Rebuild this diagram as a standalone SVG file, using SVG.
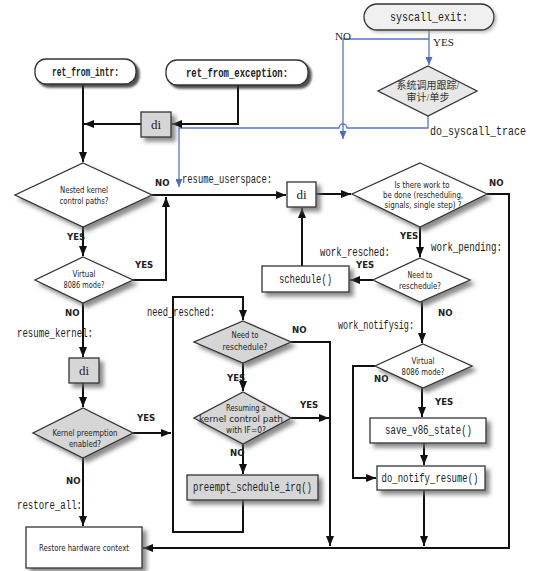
<svg xmlns="http://www.w3.org/2000/svg" width="554" height="571" viewBox="0 0 554 571">
<style>
.bx{stroke:#333;stroke-width:1.3;fill:#fff}
.gr{fill:#d6d6d6}
.ln{fill:none;stroke:#111;stroke-width:2}
.bl{fill:none;stroke:#5577c4;stroke-width:1.3}
.mono{font-family:"Liberation Mono","DejaVu Sans Mono",monospace;font-size:12px;fill:#222}
.cd{font-family:"Liberation Sans Narrow","DejaVu Sans Condensed","Liberation Sans",sans-serif;font-size:9px;fill:#222;text-anchor:middle}
.lb{font-family:"Liberation Sans Narrow","DejaVu Sans Condensed","Liberation Sans",sans-serif;font-size:9.5px;font-weight:bold;fill:#222}
.sf{font-family:"Liberation Serif",serif;font-size:11px;fill:#222}
.di{font-family:"Liberation Serif",serif;font-size:13px;fill:#222;text-anchor:middle}
.cjk{font-family:"Liberation Serif","Noto Sans CJK SC",sans-serif;font-size:10px;fill:#333;text-anchor:middle}
</style>
<defs>
<marker id="ah" markerUnits="userSpaceOnUse" markerWidth="10" markerHeight="8" refX="10" refY="4" orient="auto"><path d="M0,0 L10,4 L0,8 z" fill="#111"/></marker>
<marker id="bh" markerUnits="userSpaceOnUse" markerWidth="8" markerHeight="7" refX="8" refY="3.5" orient="auto"><path d="M0,0 L8,3.5 L0,7 z" fill="#4a6fc0"/></marker>
<filter id="sh" x="-20%" y="-20%" width="150%" height="160%"><feDropShadow dx="4" dy="4" stdDeviation="2" flood-color="#666" flood-opacity="0.75"/></filter>
<filter id="dk" x="-10%" y="-20%" width="130%" height="160%"><feDropShadow dx="3" dy="3" stdDeviation="0.8" flood-color="#333" flood-opacity="0.85"/></filter>
<filter id="lt" x="-10%" y="-20%" width="130%" height="160%"><feDropShadow dx="2" dy="2" stdDeviation="1.5" flood-color="#999" flood-opacity="0.6"/></filter>
</defs>

<g id="connectors">
<path class="bl" d="M429,30 V65" marker-end="url(#bh)"/>
<path class="bl" d="M429,39 H343 V139" marker-end="url(#bh)"/>
<path class="bl" d="M428,116 V128 H347 A4,4 0 0 0 339,128 H179 V187" marker-end="url(#bh)"/>
<path class="ln" d="M83,84 V162" marker-end="url(#ah)"/>
<path class="ln" d="M141,124 H84" marker-end="url(#ah)"/>
<path class="ln" d="M238,85 V124 H172" marker-end="url(#ah)"/>
<path class="ln" d="M83,227 V256" marker-end="url(#ah)"/>
<path class="ln" d="M152,195 H286" marker-end="url(#ah)"/>
<path class="ln" d="M133,280 H166 V197" marker-end="url(#ah)"/>
<path class="ln" d="M83,303 V357" marker-end="url(#ah)"/>
<path class="ln" d="M83,383 V407" marker-end="url(#ah)"/>
<path class="ln" d="M133,433 H171" marker-end="url(#ah)"/>
<path class="ln" d="M83,458 V526" marker-end="url(#ah)"/>
<path class="ln" d="M243,500 V532 H173 V297 H243 V320" marker-end="url(#ah)"/>
<path class="ln" d="M243,363 V391" marker-end="url(#ah)"/>
<path class="ln" d="M291,342 H330 V546" marker-end="url(#ah)"/>
<path class="ln" d="M291,418 H329" marker-end="url(#ah)"/>
<path class="ln" d="M243,444 V474" marker-end="url(#ah)"/>
<path class="ln" d="M316,194 H351" marker-end="url(#ah)"/>
<path class="ln" d="M487,194 H509 V548 H143" marker-end="url(#ah)"/>
<path class="ln" d="M420,227 V257" marker-end="url(#ah)"/>
<path class="ln" d="M373,280 H350" marker-end="url(#ah)"/>
<path class="ln" d="M302,266 V208" marker-end="url(#ah)"/>
<path class="ln" d="M422,302 V343" marker-end="url(#ah)"/>
<path class="ln" d="M375,366 H353 V478 H376" marker-end="url(#ah)"/>
<path class="ln" d="M422,388 V417" marker-end="url(#ah)"/>
<path class="ln" d="M424,443 V465" marker-end="url(#ah)"/>
<path class="ln" d="M424,490 V546" marker-end="url(#ah)"/>
</g>

<g id="labels">
<text class="sf" x="335" y="40">NO</text>
<text class="sf" x="433" y="46">YES</text>
<text class="mono" x="430" y="135" font-size="12.5" textLength="96" lengthAdjust="spacingAndGlyphs">do_syscall_trace</text>
<text class="lb" x="155" y="186">NO</text>
<text class="lb" x="67" y="240">YES</text>
<text class="lb" x="135" y="268">YES</text>
<text class="lb" x="65" y="316">NO</text>
<text class="lb" x="137" y="421">YES</text>
<text class="lb" x="66" y="484">NO</text>
<text class="lb" x="227" y="381">YES</text>
<text class="lb" x="292" y="333">NO</text>
<text class="lb" x="230" y="456">NO</text>
<text class="lb" x="300" y="408">YES</text>
<text class="lb" x="489" y="186">NO</text>
<text class="lb" x="400" y="239">YES</text>
<text class="lb" x="356" y="268">YES</text>
<text class="lb" x="438" y="316">NO</text>
<text class="lb" x="374" y="382">NO</text>
<text class="lb" x="435" y="405">YES</text>
<text class="mono" x="182" y="183" textLength="90" lengthAdjust="spacingAndGlyphs">resume_userspace:</text>
<text class="mono" x="320" y="256" textLength="70" lengthAdjust="spacingAndGlyphs">work_resched:</text>
<text class="mono" x="431" y="251" textLength="71" lengthAdjust="spacingAndGlyphs">work_pending:</text>
<text class="mono" x="338" y="329" textLength="76" lengthAdjust="spacingAndGlyphs">work_notifysig:</text>
<text class="mono" x="147" y="316" textLength="68" lengthAdjust="spacingAndGlyphs">need_resched:</text>
<text class="mono" x="17" y="337" textLength="76" lengthAdjust="spacingAndGlyphs">resume_kernel:</text>
<text class="mono" x="17" y="509" textLength="65" lengthAdjust="spacingAndGlyphs">restore_all:</text>
</g>

<g id="syscall_exit">
<rect class="bx" x="364" y="4" width="130" height="26" rx="13" style="fill:#f0f0f0" filter="url(#lt)"/>
<text class="mono" x="429" y="21" text-anchor="middle" textLength="78" lengthAdjust="spacingAndGlyphs">syscall_exit:</text>
</g>
<g id="trace_check">
<polygon class="bx" points="428,66 477,91 428,116 378,91" style="fill:#e8e8e8"/>
<text class="cjk" x="428" y="89">系统调用跟踪/</text>
<text class="cjk" x="428" y="101">审计/单步</text>
</g>
<g id="ret_from_intr">
<rect class="bx" x="35" y="59" width="101" height="25" rx="11" filter="url(#dk)"/>
<text class="mono" x="85.5" y="76" text-anchor="middle" font-weight="bold" textLength="67" lengthAdjust="spacingAndGlyphs">ret_from_intr:</text>
</g>
<g id="ret_from_exception">
<rect class="bx" x="166" y="60" width="142" height="25" rx="11" filter="url(#dk)"/>
<text class="mono" x="237" y="77" text-anchor="middle" font-weight="bold" textLength="102" lengthAdjust="spacingAndGlyphs">ret_from_exception:</text>
</g>
<g id="di1">
<rect class="bx gr" x="141" y="112" width="30" height="25" filter="url(#sh)"/>
<text class="di" x="156" y="129">di</text>
</g>
<g id="nested">
<polygon class="bx" points="83,163 152,195 83,227 15,195" filter="url(#sh)"/>
<text class="cd" x="84" y="193" textLength="48" lengthAdjust="spacingAndGlyphs">Nested kernel</text>
<text class="cd" x="84" y="204" textLength="49" lengthAdjust="spacingAndGlyphs">control paths?</text>
</g>
<g id="virtual1">
<polygon class="bx" points="83,257 133,280 83,303 35,280" filter="url(#sh)"/>
<text class="cd" x="84" y="277" textLength="23" lengthAdjust="spacingAndGlyphs">Virtual</text>
<text class="cd" x="84" y="288" textLength="41" lengthAdjust="spacingAndGlyphs">8086 mode?</text>
</g>
<g id="di2">
<rect class="bx gr" x="69" y="358" width="30" height="25" filter="url(#sh)"/>
<text class="di" x="84" y="375">di</text>
</g>
<g id="kernel_preemption">
<polygon class="bx gr" points="83,408 133,433 83,458 33,433" filter="url(#sh)"/>
<text class="cd" x="85" y="435.5" textLength="65" lengthAdjust="spacingAndGlyphs">Kernel preemption</text>
<text class="cd" x="85" y="446.5" textLength="32" lengthAdjust="spacingAndGlyphs">enabled?</text>
</g>
<g id="restore">
<rect class="bx" x="26" y="527" width="116" height="41" filter="url(#sh)"/>
<text class="cd" x="84" y="551" font-size="10" textLength="90" lengthAdjust="spacingAndGlyphs">Restore hardware context</text>
</g>
<g id="di3">
<rect class="bx" x="287" y="182" width="29" height="25" filter="url(#sh)"/>
<text class="di" x="301.5" y="199">di</text>
</g>
<g id="work_check">
<polygon class="bx" points="420,163 487,194 420,227 352,194" filter="url(#sh)"/>
<text class="cd" x="422" y="188" textLength="55" lengthAdjust="spacingAndGlyphs">Is there work to</text>
<text class="cd" x="423" y="198" textLength="80" lengthAdjust="spacingAndGlyphs">be done (rescheduling,</text>
<text class="cd" x="423" y="208" textLength="77" lengthAdjust="spacingAndGlyphs">signals, single step) ?</text>
</g>
<g id="need_resched_work">
<polygon class="bx" points="420,258 470,280 420,302 373,280" filter="url(#sh)"/>
<text class="cd" x="420" y="278" textLength="25" lengthAdjust="spacingAndGlyphs">Need to</text>
<text class="cd" x="420" y="289" textLength="42" lengthAdjust="spacingAndGlyphs">reschedule?</text>
</g>
<g id="schedule">
<rect class="bx" x="262" y="266" width="87" height="26" filter="url(#sh)"/>
<text class="mono" x="305.5" y="283" text-anchor="middle" textLength="53" lengthAdjust="spacingAndGlyphs">schedule()</text>
</g>
<g id="virtual2">
<polygon class="bx" points="423,344 472,366 423,388 375,366" filter="url(#sh)"/>
<text class="cd" x="423" y="363.5" textLength="23" lengthAdjust="spacingAndGlyphs">Virtual</text>
<text class="cd" x="423" y="374.5" textLength="43" lengthAdjust="spacingAndGlyphs">8086 mode?</text>
</g>
<g id="save_v86_state">
<rect class="bx" x="370" y="418" width="116" height="25" filter="url(#sh)"/>
<text class="mono" x="428.5" y="434" text-anchor="middle" textLength="87" lengthAdjust="spacingAndGlyphs">save_v86_state()</text>
</g>
<g id="do_notify_resume">
<rect class="bx" x="377" y="466" width="108" height="24" filter="url(#sh)"/>
<text class="mono" x="430" y="482" text-anchor="middle" textLength="97" lengthAdjust="spacingAndGlyphs">do_notify_resume()</text>
</g>
<g id="need_resched_kernel">
<polygon class="bx gr" points="243,321 291,342 243,363 194,342" filter="url(#sh)"/>
<text class="cd" x="245" y="338" textLength="27" lengthAdjust="spacingAndGlyphs">Need to</text>
<text class="cd" x="245" y="349.5" textLength="45" lengthAdjust="spacingAndGlyphs">reschedule?</text>
</g>
<g id="resuming">
<polygon class="bx gr" points="243,392 291,418 243,444 194,418" filter="url(#sh)"/>
<text class="cd" x="246" y="410.5" textLength="40" lengthAdjust="spacingAndGlyphs">Resuming a</text>
<text class="cd" x="241" y="421.5" textLength="84" lengthAdjust="spacingAndGlyphs">kernel control path</text>
<text class="cd" x="246" y="432.5" textLength="40" lengthAdjust="spacingAndGlyphs">with IF=0?</text>
</g>
<g id="preempt_schedule_irq">
<rect class="bx gr" x="187" y="475" width="131" height="25" filter="url(#sh)"/>
<text class="mono" x="252.5" y="491" text-anchor="middle" textLength="119" lengthAdjust="spacingAndGlyphs">preempt_schedule_irq()</text>
</g>
</svg>
